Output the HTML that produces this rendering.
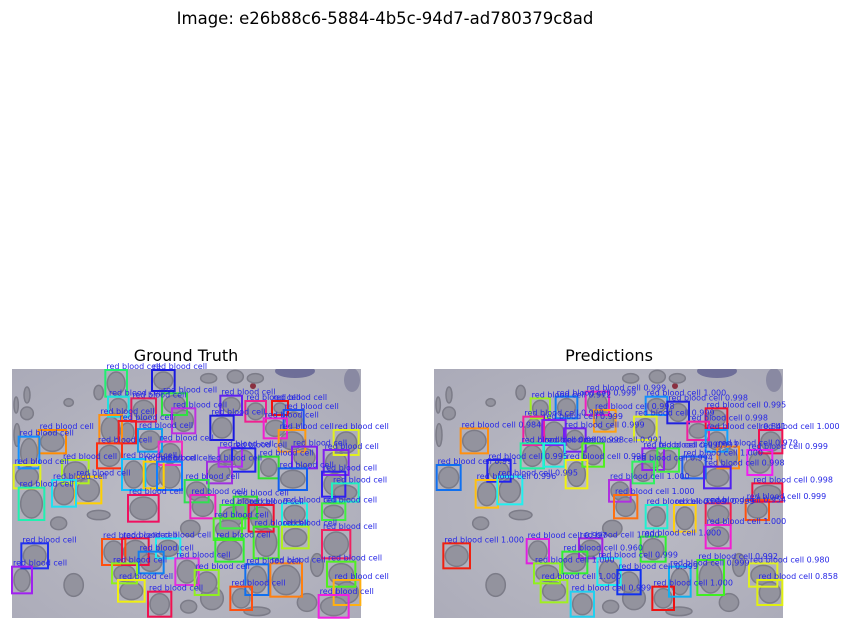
<!DOCTYPE html>
<html><head><meta charset="utf-8"><style>
html,body{margin:0;padding:0;background:#fff;width:852px;height:630px;overflow:hidden}
svg{display:block;font-family:"DejaVu Sans","Liberation Sans",sans-serif}
</style></head><body>
<svg id="fig" width="852" height="630" viewBox="0 0 852 630">
<defs>
<radialGradient id="bg" cx="0.5" cy="0.55" r="0.75"><stop offset="0" stop-color="#bdbdc6"/><stop offset="1" stop-color="#aaaab8"/></radialGradient>
</defs>
<text x="385" y="24" text-anchor="middle" font-size="16.5" fill="#000">Image: e26b88c6-5884-4b5c-94d7-ad780379c8ad</text>
<text x="186" y="361" text-anchor="middle" font-size="16" fill="#000">Ground Truth</text>
<text x="609" y="361" text-anchor="middle" font-size="16" fill="#000">Predictions</text>
<g id="left"></g>
<g id="right"></g>
</svg>
<script>
// Box coordinates in source-image pixels (1050x750 image, shown at 1/3 scale)
const gtBoxes=[[280,15,345,95],[420,15,488,78],[288,95,350,155],[358,100,432,170],[450,85,525,150],[480,130,550,205],[625,92,690,150],[700,108,762,170],[780,108,828,150],[815,135,875,195],[755,160,825,220],[595,152,665,225],[262,150,330,235],[320,168,372,235],[378,192,450,260],[80,195,162,265],[20,215,82,310],[255,235,330,310],[800,195,880,260],[965,195,1040,270],[440,230,510,300],[330,282,400,375],[395,290,455,370],[435,290,510,375],[620,248,690,305],[660,250,730,320],[585,290,660,355],[740,275,800,340],[840,245,915,310],[935,255,1010,330],[800,310,885,375],[5,300,85,370],[150,285,230,355],[190,335,268,415],[120,345,192,425],[20,368,97,465],[930,320,1000,395],[960,355,1040,410],[348,390,440,470],[518,345,590,412],[535,390,610,460],[625,420,700,490],[665,395,735,460],[710,420,785,500],[810,415,885,480],[605,460,690,525],[725,485,800,580],[810,485,890,550],[930,415,1000,465],[930,495,1015,580],[28,535,108,610],[270,522,340,600],[330,520,410,600],[432,520,505,580],[380,560,455,625],[490,580,560,660],[610,520,695,590],[0,605,60,685],[300,595,375,655],[318,645,398,710],[408,680,478,755],[548,615,620,690],[700,598,770,690],[775,595,870,695],[655,665,720,735],[945,590,1030,665],[965,645,1045,720],[920,690,1010,758]];
const gtColors=["#20f070","#1a1ae0","#20e0e0","#e0205a","#30e040","#c030e0","#6020f0","#f02090","#f01010","#2050f0","#f020d0","#1a1ae0","#ff9010","#f02020","#10a0f0","#ff8c00","#1090ff","#ff3010","#ff9a10","#e0f020","#f030c0","#10c0ff","#ffd000","#1080ff","#b030f0","#2020f0","#a030e0","#30e030","#8020f0","#8020f0","#1060f0","#e0f020","#b0f020","#ffd000","#20e0f0","#20f0b0","#3020f0","#20f0c0","#f01060","#30e050","#f020c0","#40f040","#30e030","#f01030","#20f0e0","#50f020","#40f020","#b0f020","#40f040","#f02060","#2030f0","#ff5010","#f01040","#20f0f0","#1080f0","#e030e0","#30f030","#a020f0","#90f020","#f0f010","#f01050","#90f020","#1070f0","#ff8010","#ff5010","#50f020","#ffb010","#f020e0"];
const predBoxes=[[365,95,430,160],[455,80,525,150],[290,100,348,160],[480,135,545,200],[635,95,700,150],[700,110,765,175],[815,130,880,190],[760,170,825,225],[600,155,668,225],[268,155,330,240],[325,165,395,240],[390,190,455,260],[80,190,162,265],[815,195,880,260],[975,195,1045,265],[260,235,330,310],[328,235,392,305],[445,235,510,305],[395,285,460,370],[625,250,690,315],[670,250,735,320],[745,275,815,340],[850,245,915,310],[940,255,1015,330],[810,305,890,370],[595,290,660,355],[8,300,80,375],[160,285,230,350],[125,345,192,428],[190,335,265,418],[525,345,590,410],[540,390,610,460],[635,420,700,490],[720,420,785,500],[815,415,890,480],[935,405,1005,465],[815,480,890,550],[955,355,1045,410],[28,535,108,610],[278,522,345,595],[435,520,505,580],[385,560,460,625],[620,515,695,590],[490,580,560,660],[300,595,378,655],[550,615,620,688],[320,645,400,712],[410,680,480,755],[655,665,720,735],[705,605,770,695],[790,585,870,690],[945,595,1030,665],[970,645,1045,720]];
const predScores=["0.999","0.999","0.972","0.998","1.000","0.998","0.995","0.998","0.999","0.998","0.999","0.999","0.984","0.841","1.000","0.990","0.998","0.991","0.996","0.990","0.993","1.000","0.979","0.999","0.998","0.994","0.991","0.995","0.996","0.995","1.000","1.000","0.999","0.999","0.954","0.999","1.000","0.998","1.000","0.997","1.000","0.960","1.000","0.999","1.000","0.999","1.000","0.999","1.000","0.999","0.992","0.980","0.858"];
const predColors=["#1080f0","#f020c0","#a0f020","#ffa010","#1090ff","#2020e0","#f01030","#f020a0","#e0f020","#f020a0","#8020f0","#7020f0","#ff9010","#10a0ff","#f01050","#20f0a0","#20f0e0","#50f020","#f0f010","#9020f0","#40f040","#2060f0","#ff8c10","#f020f0","#5020f0","#30f060","#1070f0","#2020f0","#ffc010","#20f0f0","#b030e0","#ff7010","#20f0d0","#ffd010","#f02050","#ff5010","#f020d0","#f01040","#f02010","#e020e0","#a020e0","#30f030","#30f030","#20f0f0","#90f020","#1030f0","#a0f020","#20d0f0","#f01010","#10b0f0","#40f020","#e0f020","#e0f010"];
const extraCells=[[30,60,60,120],[0,90,25,150],[150,95,190,130],[640,10,700,60],[240,55,280,110],[20,120,70,170],[560,20,620,60],[700,20,760,60],[220,430,300,470],[110,450,170,500],[500,460,570,520],[560,660,640,740],[850,680,920,745],[0,170,30,250],[690,720,780,758],[150,620,220,700],[500,700,560,750],[890,560,940,640]];
const imgTop=365;
function sx(left,v){return left+v/3;}
function sy(v){return imgTop+v/3;}
const NS="http://www.w3.org/2000/svg";
function mk(tag,attrs,parent){const e=document.createElementNS(NS,tag);for(const k in attrs)e.setAttribute(k,attrs[k]);parent.appendChild(e);return e;}
function drawPanel(g,left,boxes,colors,labels,panelName){
  const clip=mk('clipPath',{id:'clip'+panelName},document.querySelector('defs'));
  mk('rect',{x:left,y:369,width:349,height:249},clip);
  const bg=mk('rect',{x:left,y:369,width:349,height:249,fill:'url(#bg)'},g);
  
  
  const cg=mk('g',{'clip-path':'url(#clip'+panelName+')'},g);
  mk('ellipse',{cx:left+283,cy:371,rx:20,ry:7,fill:'#5a5a8c',opacity:0.75},cg);
  mk('ellipse',{cx:left+340,cy:380,rx:8,ry:12,fill:'#7a7a98',opacity:0.7},cg);
  mk('circle',{cx:left+241,cy:386,r:3,fill:'#8a3040'},cg);
  const drawCell=(b,name)=>{
    const x1=sx(left,b[0]),x2=sx(left,b[2]),y1=sy(b[1]),y2=sy(b[3]);
    const c=mk('ellipse',{cx:(x1+x2)/2,cy:(y1+y2)/2,rx:(x2-x1)/2-2,ry:(y2-y1)/2-2,fill:'#93939e',stroke:'#7c7c88','stroke-width':1.5},cg);
    
    
  };
  extraCells.forEach(b=>drawCell(b,'cell'));
  boxes.forEach(b=>drawCell(b,'cell'));
  boxes.forEach((b,i)=>{
    const x1=sx(left,b[0]),x2=sx(left,b[2]),y1=sy(b[1]),y2=sy(b[3]);
    const r=mk('rect',{x:x1,y:y1,width:x2-x1,height:y2-y1,fill:'none',stroke:colors[i%colors.length],'stroke-width':2},g);
    
    
  });
  boxes.forEach((b,i)=>{
    const t=mk('text',{x:sx(left,b[0])+1,y:sy(b[1])-1,'font-size':8,fill:'#2626e6'},g);
    t.textContent=labels[i];
    
    
  });
}
drawPanel(document.getElementById('left'),12,gtBoxes,gtColors,gtBoxes.map(()=> 'red blood cell'),'L');
drawPanel(document.getElementById('right'),434,predBoxes,predColors,predScores.map(s=>'red blood cell '+s),'R');
</script>
</body></html>
